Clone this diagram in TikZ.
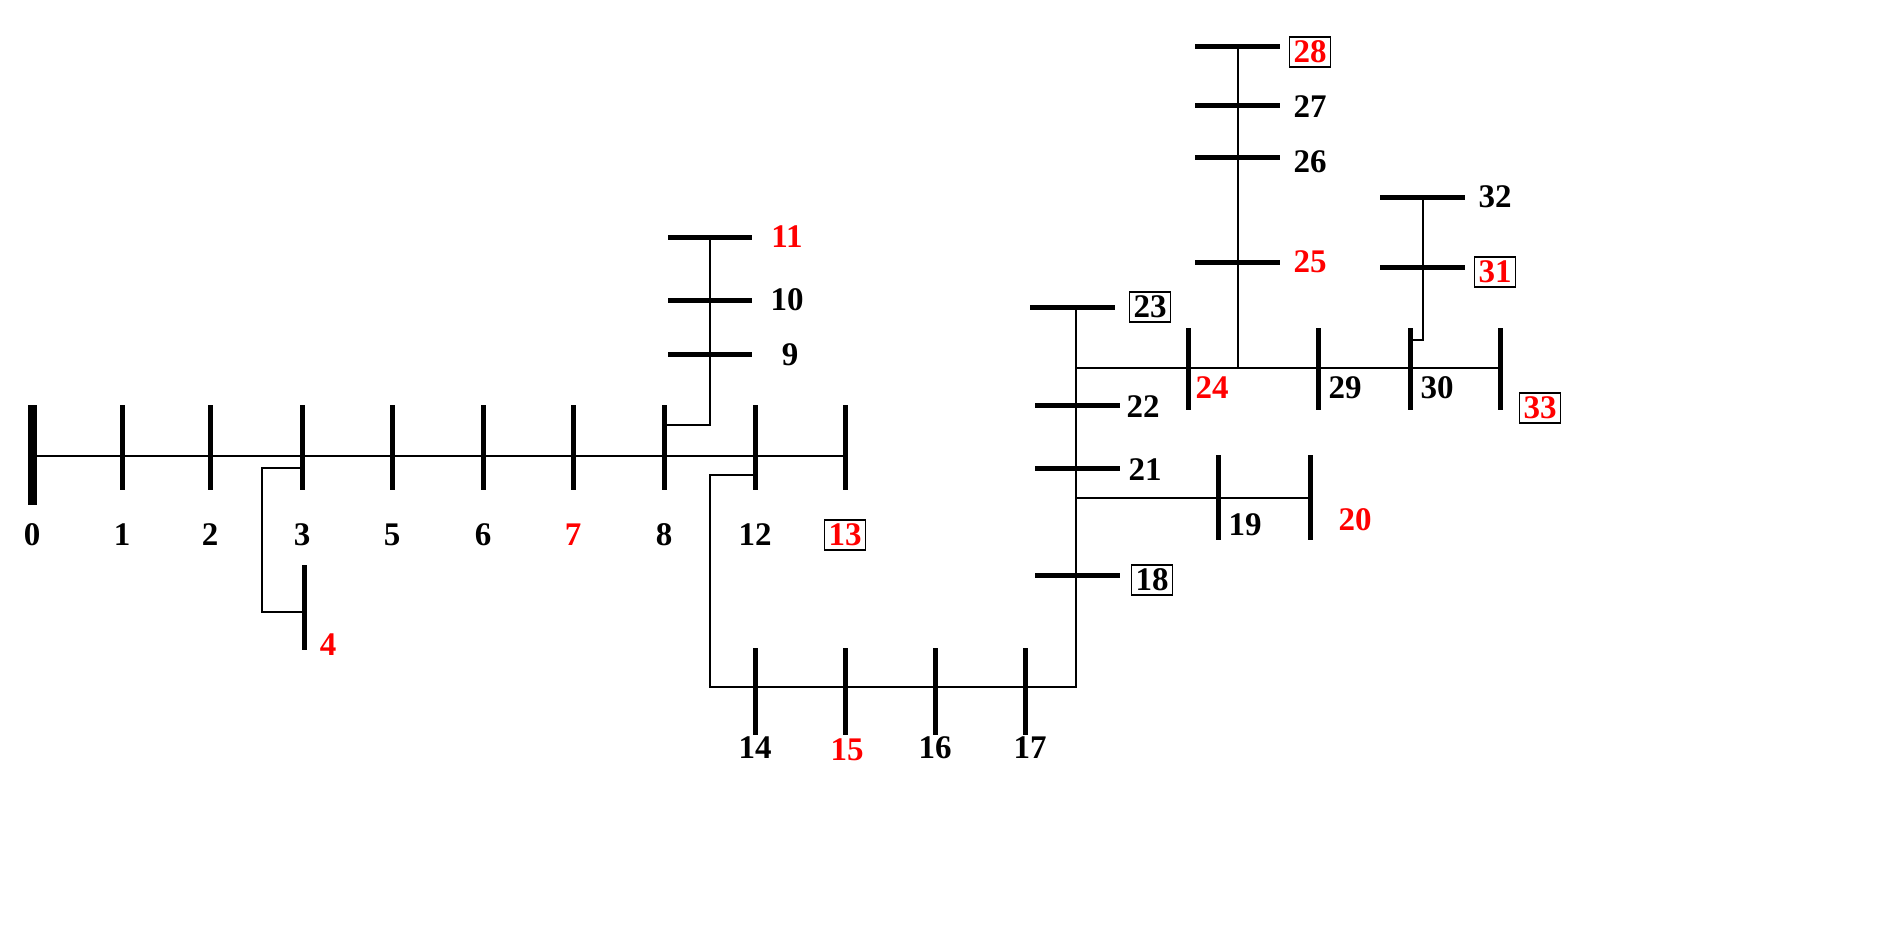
\documentclass[tikz,border=0pt]{standalone}
\usepackage{fontspec}
\setmainfont{Liberation Serif}
\begin{document}
\begin{tikzpicture}[x=1pt,y=-1pt,
  ln/.style={line width=2.6pt},
  bus/.style={line width=5pt},
  lb/.style={font=\fontsize{33}{33}\selectfont\bfseries,inner sep=1pt},
  rl/.style={lb,text=red},
  bx/.style={draw=black,line width=1.5pt,inner sep=4pt}]
\useasboundingbox (0,0) rectangle (1903,950);
% main feeder
\coordinate (m0) at (30,456); \coordinate (m13) at (845,456);
\draw[ln] (m0) -- (m13);
\draw[line width=9pt] (32,405) -- (32,505);
\foreach \x in {122,210,302,392,483,573,664,755,845} \draw[bus] (\x,405) -- (\x,490);
\foreach \x/\t in {32/0,122/1,210/2,302/3,392/5,483/6,664/8,755/12} \node[lb] (l\t) at (\x,535) {\t};
\node[rl] (l7) at (573,535) {7};
\node[rl,bx] (l13) at (845,535) {13};
% bus 4
\draw[ln] (302,468) -- (262,468) -- (262,612) -- (304,612);
\draw[bus] (304,565) -- (304,650);
\node[rl] (l4) at (328,645) {4};
% 9-11
\draw[ln] (664,425) -- (710,425) -- (710,237);
\foreach \y in {237,300,354} \draw[bus] (668,\y) -- (752,\y);
\node[lb] (l9) at (790,355) {9};
\node[lb] (l10) at (787,300) {10};
\node[rl] (l11) at (787,237) {11};
% 14-17
\draw[ln] (755,475) -- (710,475) -- (710,687) -- (1076,687) -- (1076,307);
\foreach \x in {755,845,935,1025} \draw[bus] (\x,648) -- (\x,735);
\node[lb] (l14) at (755,748) {14};
\node[rl] (l15) at (847,750) {15};
\node[lb] (l16) at (935,748) {16};
\node[lb] (l17) at (1030,748) {17};
% 18,21,22,23
\draw[bus] (1035,575) -- (1120,575); \node[lb,bx] (l18) at (1152,580) {18};
\draw[bus] (1035,468) -- (1120,468); \node[lb] (l21) at (1145,470) {21};
\draw[bus] (1035,405) -- (1120,405); \node[lb] (l22) at (1143,407) {22};
\draw[bus] (1030,307) -- (1115,307); \node[lb,bx] (l23) at (1150,307) {23};
% 19,20
\draw[ln] (1076,498) -- (1310,498);
\draw[bus] (1218,455) -- (1218,540); \node[lb] (l19) at (1245,525) {19};
\draw[bus] (1310,455) -- (1310,540); \node[rl] (l20) at (1355,520) {20};
% 24-33 line
\draw[ln] (1076,368) -- (1500,368);
\foreach \x in {1188,1318,1410,1500} \draw[bus] (\x,328) -- (\x,410);
\node[rl] (l24) at (1212,388) {24};
\node[lb] (l29) at (1345,388) {29};
\node[lb] (l30) at (1437,388) {30};
\node[rl,bx] (l33) at (1540,408) {33};
% 25-28
\draw[ln] (1238,368) -- (1238,47);
\foreach \y in {47,105,157,262} \draw[bus] (1195,\y) -- (1280,\y);
\node[rl] (l25) at (1310,262) {25};
\node[lb] (l26) at (1310,162) {26};
\node[lb] (l27) at (1310,107) {27};
\node[rl,bx] (l28) at (1310,52) {28};
% 31,32
\draw[ln] (1410,340) -- (1423,340) -- (1423,197);
\draw[bus] (1380,267) -- (1465,267); \node[rl,bx] (l31) at (1495,272) {31};
\draw[bus] (1380,197) -- (1465,197); \node[lb] (l32) at (1495,197) {32};
\end{tikzpicture}
\end{document}
